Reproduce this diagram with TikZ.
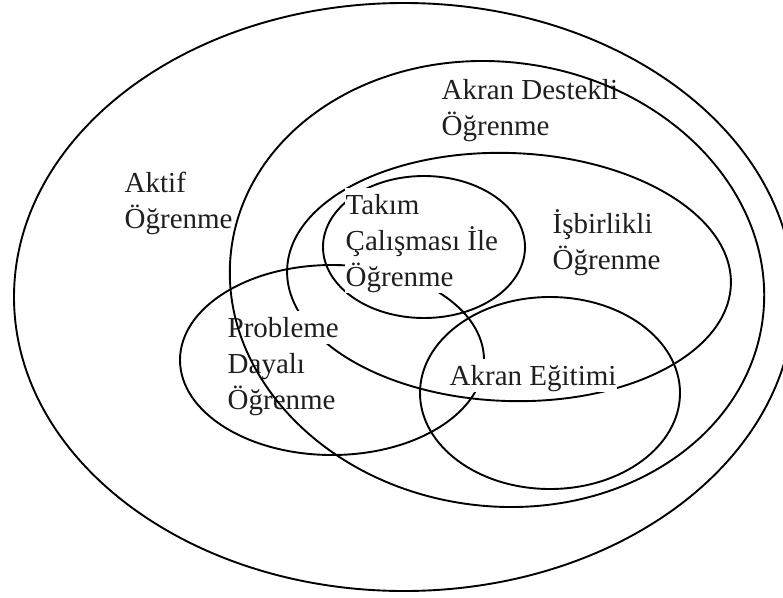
\documentclass[tikz,border=0pt]{standalone}
\usepackage{fontspec}
\setmainfont{Liberation Serif}
\begin{document}
\begin{tikzpicture}[x=1pt,y=-1pt,
  ring/.style={draw=black,line width=1.9pt},
  lbl/.style={anchor=base west,fill=white,inner xsep=0.5pt,inner ysep=0pt,
    text height=26pt,text depth=7pt,font=\fontsize{29}{36}\selectfont,text=black!88},
  plainlbl/.style={lbl,fill=none}]
\useasboundingbox (0,0) rectangle (783,597);

% set outlines that lie beneath the labels
\draw[ring] (404,297) ellipse [x radius=390pt, y radius=294pt];          % Aktif
\draw[ring, rotate around={-2:(509,277)}] (509,277) ellipse [x radius=222pt, y radius=124pt]; % Isbirlikli
\draw[ring] (424,247) ellipse [x radius=101pt, y radius=71pt];           % Takim
\draw[ring] (332,360) ellipse [x radius=152pt, y radius=95pt];           % Probleme
\draw[ring] (550,393) ellipse [x radius=130pt, y radius=96pt];           % Akran Egitimi

% labels, one white box per line
\node[lbl] (aktifA) at (124,192) {Aktif};
\node[lbl] (aktifB) at (124,228) {Öğrenme};

\node[lbl] (takimA) at (345,214) {Takım};
\node[lbl] (takimB) at (345,250) {Çalışması İle};
\node[lbl] (takimC) at (345,286) {Öğrenme};

\node[lbl] (isbA) at (552,233) {İşbirlikli};
\node[lbl] (isbB) at (552,269) {Öğrenme};

\node[lbl] (probA) at (227,337) {Probleme};
\node[lbl] (probB) at (227,373) {Dayalı};
\node[lbl] (probC) at (227,409) {Öğrenme};

\node[lbl] (egitim) at (449,385) {Akran Eğitimi};

\node[plainlbl] (destA) at (441,99) {Akran Destekli};
\node[plainlbl] (destB) at (441,135) {Öğrenme};

% peer-supported learning outline, drawn over the labels
\draw[ring, rotate around={-8:(497,284)}] (497,284) ellipse [x radius=268pt, y radius=222pt];
\end{tikzpicture}
\end{document}
